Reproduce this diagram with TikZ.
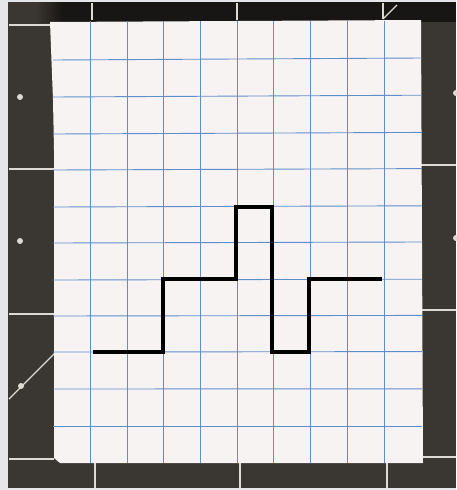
\documentclass[tikz,border=0pt]{standalone}
\definecolor{frame}{HTML}{E4E6E9}
\definecolor{mat}{HTML}{3A3632}
\definecolor{matdark}{HTML}{181614}
\definecolor{matline}{HTML}{DCDAD2}
\definecolor{paper}{HTML}{F7F3F2}
\definecolor{gridblue}{HTML}{5F8ECB}
\tikzset{
  matmark/.style={draw=matline, line width=1.4pt},
  matdot/.style={fill=matline},
  gridline/.style={draw=gridblue, line width=0.9pt},
  signal/.style={draw=black, line width=3.3pt, miter limit=10}
}
\begin{document}
\begin{tikzpicture}[x=1pt,y=-1pt]
\useasboundingbox (0,0) rectangle (456,490);
\fill[frame] (0,0) rectangle (456,490);
\fill[mat] (8,2) rectangle (456,488);
% dark shadow band at the top
\fill[matdark] (62,2) rectangle (456,22);
\shade[left color=mat, right color=matdark] (36,2) rectangle (62,22);
% marks on the cutting mat
\draw[matmark] (92,3) -- (92,20);
\draw[matmark] (237,3) -- (237,20);
\draw[matmark] (383,3) -- (383,19);
\draw[matmark] (383,19) -- (397,5);
\draw[matmark] (9,25) -- (52,25);
\draw[matmark] (9,169) -- (54,169);
\draw[matmark] (9,314) -- (54,314);
\draw[matmark] (9,459) -- (54,459);
\draw[matmark] (420,165) -- (456,165);
\draw[matmark] (420,310) -- (456,310);
\draw[matmark] (422,457) -- (456,457);
\draw[matmark] (95,462) -- (95,488);
\draw[matmark] (240,462) -- (240,488);
\draw[matmark] (387,462) -- (387,488);
\draw[matmark] (9,399) -- (55,353);
\fill[matdot] (20,97) circle (3);
\fill[matdot] (20,241) circle (3);
\fill[matdot] (21,386) circle (3);
\fill[matdot] (456,93) circle (3);
\fill[matdot] (456,238) circle (3);
% paper
\fill[paper] (50,22) -- (421,20) -- (423,463) -- (60,463) -- (54,458) -- (54,150) -- (53,100) -- cycle;
% grid
\foreach \x in {90,127,163,200,237,273,310,347,384}
  \draw[gridline] (\x,21) -- (\x,463);
\foreach \y/\d in {60/2,97/1.8,134/1.6,170/1.4,207/1.2,243/1,280/0.8,316/0.6,352/0.4,389/0.2,426/0}
  \draw[gridline] (53,\y) -- (422,\y-\d);
% signal
\draw[signal] (93,352) -- (163,352) -- (163,279) -- (236,279) -- (236,207)
  -- (272,207) -- (272,352) -- (309,352) -- (309,279) -- (382,279);
\end{tikzpicture}
\end{document}
